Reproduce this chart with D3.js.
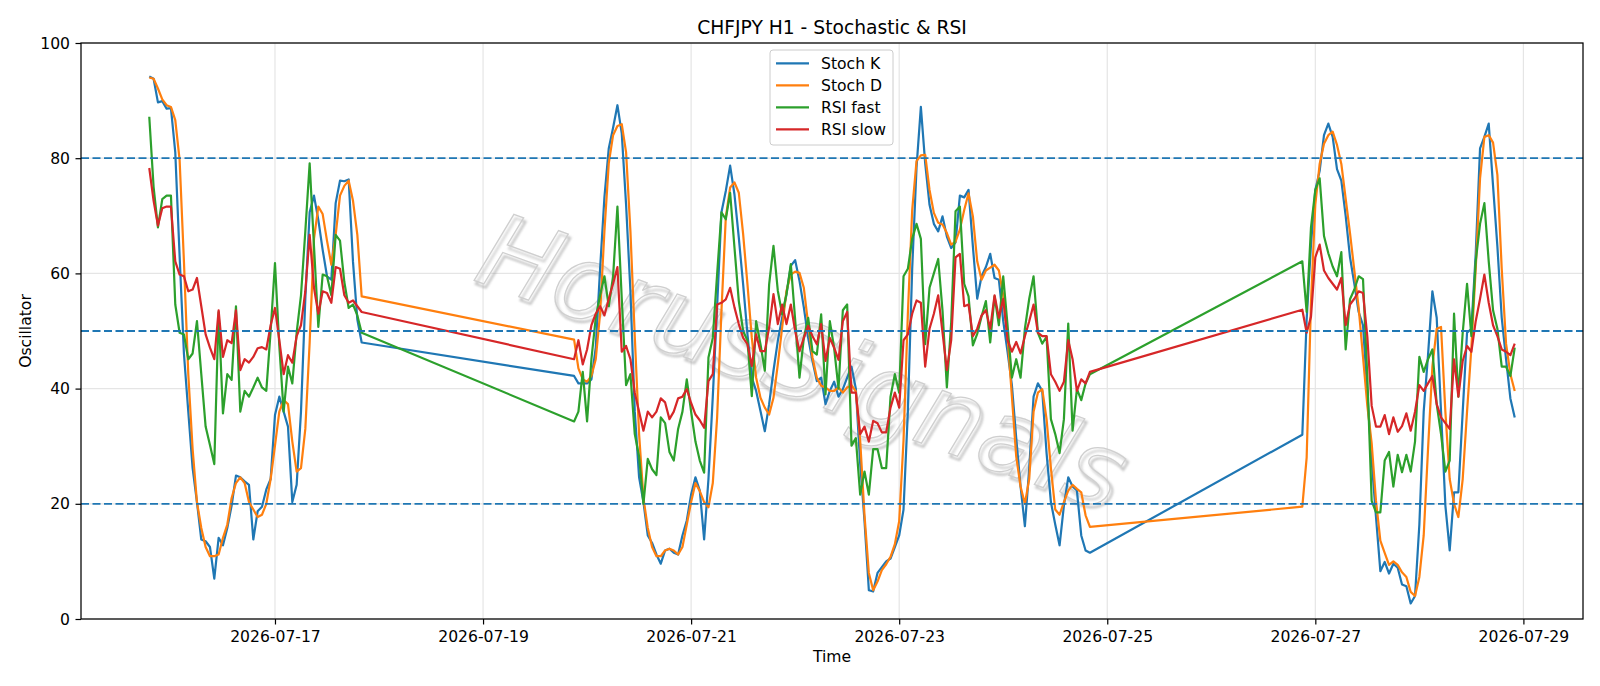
<!DOCTYPE html>
<html>
<head>
<meta charset="utf-8">
<script src="https://cdn.jsdelivr.net/npm/d3@7"></script>
<style>
  body { margin: 0; background: #fff; }
  svg { display: block; font-family: "DejaVu Sans", sans-serif; }
</style>
</head>
<body>
<script>
// séances horaires (UTC) : début et nombre de bougies
const sessionStarts = ["2026-07-15T19:00:00Z", "2026-07-19T21:00:00Z", "2026-07-26T21:00:00Z"];
const sessionHours = [50, 120, 50];

const stochK = [
  // 15-17 juillet
  94.2, 93.8, 89.7, 89.9, 88.6, 88.7, 81, 63, 46, 36, 26.2, 20.3, 13.8, 13.5, 12.5, 7, 14.1, 12.8, 15.8, 19.7,
  24.9, 24.6, 23.9, 23.3, 13.8, 18.7, 19.5, 22.5, 24.3, 35.4, 38.6, 36, 33.4, 20.3, 23.3, 36, 55.6, 70.6, 73.5, 69.3,
  64.1, 59.5, 58.9, 72.2, 76.1, 76, 76.3, 62, 52, 48,
  // 19-24 juillet
  42.2, 40.9, 40.9, 40.9, 41.6, 47.1, 60.8, 73.2, 81.7, 85.3, 89.2, 84.3, 71.9, 56.9, 36, 24.6, 20.3, 14.5, 13.2, 11.2,
  9.6, 11.9, 12.2, 11.5, 11.2, 14.5, 17.1, 21.6, 24.6, 22.3, 13.8, 24.3, 38.6, 54.3, 70.6, 74.3, 78.7, 73.7, 66.2, 58.1,
  49.4, 41.9, 39.6, 36.1, 32.6, 37.3, 43.1, 48.3, 52.3, 56.4, 61.3, 62.3, 58.7, 54.1, 48.8, 44.8, 41.3, 41.9, 37.3, 39.6,
  41.2, 38.6, 39.9, 41.9, 43.8, 40, 27, 17, 5, 4.8, 8, 9, 10, 10.5, 12.5, 14.5, 19, 36, 60.8, 78.4,
  88.9, 79.1, 71.9, 68.6, 67.3, 69.9, 66.4, 64.4, 65.4, 73.5, 73.2, 74.5, 64.7, 55.6, 59.5, 61.1, 63.4, 59.2, 58.9, 51.7,
  46.4, 40.6, 31.4, 23, 16.1, 26.2, 38.6, 40.9, 39.6, 28.8, 20.3, 16.4, 12.8, 19.7, 24.6, 23, 22.3, 14.5, 11.9, 11.5,
  // 26-28 juillet
  32, 52, 65, 74.5, 77.8, 84, 86, 83.7, 78.1, 76.1, 70, 62.8, 58.2, 53.3, 51, 39.3, 27.5, 17.7, 8.3, 9.9,
  7.9, 9.6, 8.9, 6, 5.7, 2.7, 4, 16.4, 36, 45.8, 56.9, 52.3, 36, 19.7, 11.9, 22, 22, 36, 49.7, 50.4,
  63.4, 81.7, 83.7, 86, 75.2, 64.7, 52.3, 45.1, 38.3, 35
];

const stochD = [
  94, 93.8, 92.1, 90.2, 89.2, 88.9, 86.6, 79.7, 62, 42.5, 29.5, 20.3, 15.8, 12.5, 10.9, 10.9, 11.2, 14.1, 16.4, 21,
  23.6, 24.6, 23.6, 20.3, 19, 17.7, 18.1, 20, 24.3, 30.1, 36, 38, 37.3, 30.8, 25.6, 26.2, 33, 48, 66, 71.6,
  70.3, 65.7, 61.5, 66.7, 73.5, 75.2, 76.1, 72.6, 66.7, 56,
  48.5, 43.5, 41.6, 41.2, 42.2, 45.1, 53, 67.3, 79.1, 84, 85.6, 85.9, 81, 67.3, 49.1, 32.1, 21, 15.8, 12.5, 10.9,
  10.9, 11.9, 12.2, 11.9, 11.2, 12.5, 16.4, 20.3, 23.6, 22.2, 20.3, 19.4, 23.6, 35, 53.5, 69.7, 74.9, 75.8, 74, 66.8,
  58.1, 48.8, 41.9, 38.4, 36.7, 35.5, 38.4, 44.2, 50.6, 57, 59.8, 60.3, 60.1, 57.5, 51.2, 45.4, 41.9, 40.5, 40.2, 39.6,
  39.6, 40.2, 39.3, 40.2, 40.6, 39.5, 31, 18, 8, 5, 6.5, 8.5, 9.5, 10.8, 13, 17, 31, 53, 71, 79.5,
  80.5, 80.6, 74.5, 70.5, 68.8, 68.5, 67, 65, 65.5, 67.6, 71, 73.9, 69.9, 62.1, 58.9, 60.5, 61, 61.5, 60.5, 56.2,
  49.1, 38.6, 28.2, 23, 20, 24.3, 36, 39.3, 39.9, 34.7, 26.2, 19, 18.1, 20.3, 22.3, 23.3, 22.6, 22, 18, 16,
  19.5, 28, 55, 72, 79, 82.5, 84, 84.6, 82.3, 79, 73, 67, 60.5, 54, 45.5, 37, 30.5, 20.5, 13.6, 11.5,
  9.4, 10, 9.4, 8.1, 7.3, 4.7, 4, 7.3, 14.5, 29.5, 43.8, 50.4, 50.7, 36, 24.3, 20, 17.7, 24.3, 36, 47.1,
  60.8, 76.5, 83.7, 84, 82.7, 77.1, 60.8, 47.8, 42.5, 39.6
];

const rsiFast = [
  87.2, 75, 68, 72.9, 73.5, 73.5, 54.6, 49.7, 49.4, 45.1, 46.1, 51.7, 42.5, 33.4, 30.2, 26.9, 53.3, 35.7, 42.5, 41.5,
  54.3, 36, 39.6, 38.6, 40.2, 41.9, 40.2, 39.6, 50, 61.8, 47.4, 36, 43.8, 40.9, 49.7, 56.2, 67.3, 79.1, 64.7, 50.7,
  59.8, 59.5, 56.2, 66.7, 65.7, 58.5, 54, 54.6, 52.7, 49.7,
  34.3, 36, 42.9, 34.3, 45.1, 52.3, 56.2, 59.5, 54.3, 59.5, 71.6, 55.6, 40.6, 42.5, 32.1, 28.2, 20, 27.8, 26, 25,
  35, 34, 29, 27.5, 33, 36, 41.6, 36, 30.8, 27.5, 25.4, 45.4, 48.8, 59.9, 70.6, 69.4, 74, 64.5, 55.2, 50,
  48.3, 38.7, 51.7, 47.7, 43.1, 58.1, 64.8, 57, 52.9, 56.4, 61.6, 52, 41.9, 48.8, 52.3, 46.5, 45.9, 52.9, 39, 51.7,
  47, 40, 53.6, 54.6, 30.1, 31.4, 21.6, 25.6, 21.6, 29.5, 29.5, 26.2, 26.2, 38.6, 42.5, 39.3, 59.5, 60.8, 66, 68.6,
  66, 47.7, 57.5, 60, 62.5, 53.5, 40.2, 51.5, 70.8, 71.6, 58.2, 56, 47.5, 49.5, 52.5, 55.2, 48, 56, 51, 59.5,
  51, 41.9, 45.1, 41.9, 50.4, 55.6, 59.5, 49.7, 47.8, 49, 34.7, 32.1, 28.8, 34.7, 51.3, 32.7, 39.9, 38, 40.9, 42.5,
  62.1, 53.3, 68, 74.5, 76.5, 66.5, 63.5, 61.2, 59.5, 63.7, 46.8, 55.5, 57.2, 59.5, 59, 42, 20.5, 18.5, 18.5, 27.5,
  29, 23, 28.5, 25.5, 28.5, 25.6, 30.8, 45.5, 42.9, 45.1, 46.8, 37.3, 32.1, 25.6, 27.5, 53, 38.6, 49.7, 58.2, 49.1,
  62.1, 68.6, 72.2, 62.1, 53.6, 50.4, 43.8, 43.8, 42.2, 47.1
];

const rsiSlow = [
  78.3, 72.6, 68.3, 71.3, 71.6, 71.6, 62.1, 59.8, 59.5, 56.9, 57.2, 59.2, 54.3, 49.4, 47.1, 45.1, 53.6, 45.5, 48.4, 47.9,
  53.6, 43.2, 45.1, 44.5, 45.5, 47, 47.2, 46.8, 51, 54, 48.4, 42.5, 45.8, 44.5, 49.1, 51, 56.9, 66.7, 57.5, 53,
  56.9, 56.6, 54.9, 61.1, 60.8, 56.2, 54.9, 55.3, 54.3, 53.3,
  45.1, 48.4, 44.2, 46.8, 51, 53, 54.3, 52.7, 55.6, 58.2, 61.1, 46.4, 47.4, 45.1, 39.3, 36, 32.7, 36, 35, 36,
  38.3, 37.6, 34.7, 36, 38.3, 38.6, 39.9, 37.5, 35.5, 34.5, 33.2, 41.3, 42.5, 54.6, 54.9, 55.5, 57.5, 54.1, 51.2, 48.8,
  47.7, 43.9, 49.4, 46.5, 46.5, 50.6, 56.4, 51.2, 54.6, 51.2, 54.6, 50, 46.5, 48.8, 50.9, 49.1, 47.7, 51.2, 44.8, 48.8,
  47.1, 45, 51.7, 53.3, 39.3, 39.3, 32.1, 33.4, 30.8, 34.4, 34, 32.4, 32.4, 36.7, 39.3, 36.7, 48.4, 49.4, 53, 55.3,
  54.9, 43.8, 50.4, 53, 56.2, 49.7, 43.2, 48.4, 62.8, 63.4, 54.3, 54.6, 49.1, 50.4, 52.7, 53.6, 50.4, 56.2, 52.3, 55.6,
  48.4, 46.4, 48.1, 46.1, 49.1, 51.7, 54.6, 49.7, 49.1, 49.1, 42.5, 41.2, 39.6, 41.2, 48.4, 45.1, 39.6, 41.6, 40.9, 42.9,
  53.7, 49.7, 52.5, 62.8, 65, 60.5, 59.2, 58.2, 57.2, 59.2, 51, 54.6, 55.6, 56.9, 56.6, 49, 37, 33.4, 33.4, 35.4,
  32.1, 35, 32.5, 33.5, 35.7, 32.7, 36, 40.6, 39.6, 40.9, 42.2, 37.3, 35, 34, 33, 45.1, 38.6, 44.8, 47.4, 46.4,
  51.7, 55.6, 59.8, 54.9, 51, 49.1, 46.8, 46.4, 45.8, 47.8
];

const levels = [80, 50, 20];
const yTicks = [0, 20, 40, 60, 80, 100];
const xTickLabels = ["2026-07-17", "2026-07-19", "2026-07-21", "2026-07-23", "2026-07-25", "2026-07-27", "2026-07-29"];

const series = [
  { name: "Stoch K", values: stochK, color: "#1f77b4" },
  { name: "Stoch D", values: stochD, color: "#ff7f0e" },
  { name: "RSI fast", values: rsiFast, color: "#2ca02c" },
  { name: "RSI slow", values: rsiSlow, color: "#d62728" }
];

// horodatage de chaque bougie
const times = sessionStarts.flatMap((s, i) =>
  d3.range(sessionHours[i]).map(h => d3.utcHour.offset(new Date(s), h)));

const W = 1600, H = 686;
const m = { top: 43, right: 17, bottom: 67, left: 81 };
const iw = W - m.left - m.right, ih = H - m.top - m.bottom;

const svg = d3.select("body").append("svg")
  .attr("width", W).attr("height", H);

// ombre floue pour le filigrane
svg.append("defs").append("filter").attr("id", "flou")
  .attr("x", "-10%").attr("y", "-10%").attr("width", "120%").attr("height", "120%")
  .append("feGaussianBlur").attr("stdDeviation", 1.3);

// marge de 5 % comme matplotlib
const [t0, t1] = d3.extent(times);
const pad = (t1 - t0) * 0.05;
const x = d3.scaleUtc().domain([new Date(+t0 - pad), new Date(+t1 + pad)]).range([0, iw]);
const y = d3.scaleLinear().domain([0, 100]).range([ih, 0]);
const xTicks = xTickLabels.map(s => new Date(s + "T00:00:00Z"));

svg.append("text")
  .attr("x", m.left + iw / 2).attr("y", 33.5)
  .attr("text-anchor", "middle").attr("font-size", 18.7)
  .text("CHFJPY H1 - Stochastic & RSI");

const g = svg.append("g").attr("transform", `translate(${m.left},${m.top})`);

// grille
g.append("g").selectAll("line").data(xTicks).join("line")
  .attr("x1", d => x(d)).attr("x2", d => x(d)).attr("y1", 0).attr("y2", ih)
  .attr("stroke", "#e5e5e5").attr("stroke-width", 1.2);
g.append("g").selectAll("line").data(yTicks).join("line")
  .attr("x1", 0).attr("x2", iw).attr("y1", d => y(d)).attr("y2", d => y(d))
  .attr("stroke", "#e5e5e5").attr("stroke-width", 1.2);

// filigrane
const wm = g.append("g")
  .attr("transform", `translate(${iw / 2 - 32},${ih / 2 + 38}) rotate(20)`);
wm.append("text")
  .attr("x", 3).attr("y", 3)
  .attr("text-anchor", "middle").attr("dominant-baseline", "middle")
  .attr("font-size", 104).attr("font-style", "italic")
  .attr("fill", "none").attr("stroke", "#8a8a8a").attr("stroke-opacity", 0.55).attr("stroke-width", 2.2)
  .attr("filter", "url(#flou)")
  .text("HorusSignals");
wm.append("text")
  .attr("text-anchor", "middle").attr("dominant-baseline", "middle")
  .attr("font-size", 104).attr("font-style", "italic")
  .attr("fill", "#fff").attr("fill-opacity", 0.3)
  .attr("stroke", "#cfcfcf").attr("stroke-width", 1.3)
  .text("HorusSignals");

const line = d3.line().x((d, i) => x(times[i])).y(d => y(d));

g.append("g").selectAll("path").data(series).join("path")
  .attr("d", d => line(d.values))
  .attr("fill", "none").attr("stroke", d => d.color)
  .attr("stroke-width", 2.2).attr("stroke-linejoin", "round");

g.append("g").selectAll("line").data(levels).join("line")
  .attr("x1", 0).attr("x2", iw).attr("y1", d => y(d)).attr("y2", d => y(d))
  .attr("stroke", "#1f77b4").attr("stroke-width", 1.8).attr("stroke-dasharray", "8,3.5");

// axes
const xAxis = g.append("g").attr("transform", `translate(0,${ih})`)
  .call(d3.axisBottom(x).tickValues(xTicks).tickFormat(d3.utcFormat("%Y-%m-%d"))
    .tickSize(5.5).tickPadding(6.5).tickSizeOuter(0));
const yAxis = g.append("g")
  .call(d3.axisLeft(y).tickValues(yTicks).tickSize(5.5).tickPadding(5.5).tickSizeOuter(0));
[xAxis, yAxis].forEach(a => {
  a.select(".domain").remove();
  a.selectAll("text").attr("font-size", 15.6).attr("font-family", "DejaVu Sans").attr("fill", "#000");
  a.selectAll("line").attr("stroke", "#000").attr("stroke-width", 1.2);
});

g.append("rect").attr("width", iw).attr("height", ih)
  .attr("fill", "none").attr("stroke", "#000").attr("stroke-width", 1.25);

svg.append("text")
  .attr("x", m.left + iw / 2).attr("y", 662)
  .attr("text-anchor", "middle").attr("font-size", 15.6).text("Time");
svg.append("text")
  .attr("transform", `translate(31,${m.top + ih / 2}) rotate(-90)`)
  .attr("text-anchor", "middle").attr("font-size", 15.6).text("Oscillator");

// légende
const lg = svg.append("g").attr("transform", "translate(770,50)");
lg.append("rect").attr("width", 123).attr("height", 95).attr("rx", 3)
  .attr("fill", "#fff").attr("fill-opacity", 0.8).attr("stroke", "#cccccc");
const items = lg.selectAll("g").data(series).join("g")
  .attr("transform", (d, i) => `translate(0,${13.3 + i * 22})`);
items.append("line").attr("x1", 6).attr("x2", 39)
  .attr("stroke", d => d.color).attr("stroke-width", 2.2);
items.append("text").attr("x", 51).attr("y", 5.6)
  .attr("font-size", 15.6).text(d => d.name);
</script>
</body>
</html>
